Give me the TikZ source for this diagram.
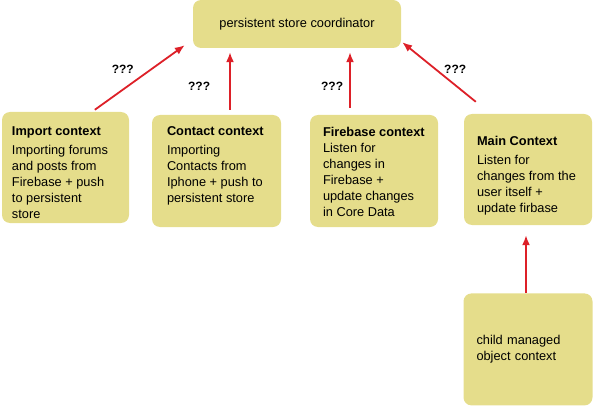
\documentclass[tikz,border=0pt]{standalone}
\usepackage{fontspec}
\setmainfont{Liberation Sans}
\usetikzlibrary{arrows.meta, positioning}
\definecolor{boxyellow}{RGB}{229,221,139}
\definecolor{arrowred}{RGB}{221,32,40}

\begin{document}
\begin{tikzpicture}[
    x=1pt, y=-1pt,
    node distance=1.2cm,
    ctxbox/.style={rectangle, fill=boxyellow, rounded corners=8pt, minimum width=128pt, minimum height=111pt, inner sep=0pt},
    ctxtext/.style={inner sep=0pt, align=left, font=\fontsize{12.8}{16}\selectfont},
    qmark/.style={inner sep=0pt, font=\bfseries\fontsize{12}{14}\selectfont},
    arrow/.style={-{Latex[width=8pt,length=10pt]}, line width=1.8pt, draw=arrowred}
]
    \useasboundingbox (0,0) rectangle (593,406);

    \node[ctxbox, minimum width=208pt, minimum height=48pt, font=\fontsize{12.8}{16}\selectfont] (psc) at (297,24) {persistent store coordinator};

    \node[ctxbox, minimum width=127pt] (import) at (65.5,167.5) {};
    \node[ctxbox, minimum width=129pt, minimum height=112pt] (contact) at (216.5,171) {};
    \node[ctxbox, minimum height=112pt] (firebase) at (374,171) {};
    \node[ctxbox] (main) at (528,169.5) {};
    \node[ctxbox, minimum width=129pt, minimum height=112pt, below=68pt of main, ctxtext, text width=103pt] (child) {child managed\\ object context};

    \node[ctxtext, below right=15pt and 10pt of import.north west] (import-txt) {\textbf{Import context}\\[3pt] Importing forums\\ and posts from\\ Firebase + push\\ to persistent\\ store};
    \node[ctxtext, below right=12pt and 15pt of contact.north west] (contact-txt) {\textbf{Contact context}\\[3pt] Importing\\ Contacts from\\ Iphone + push to\\ persistent store};
    \node[ctxtext, below right=12pt and 13pt of firebase.north west] (firebase-txt) {\textbf{Firebase context}\\ Listen for\\ changes in\\ Firebase +\\ update changes\\ in Core Data};
    \node[ctxtext, below right=22pt and 13pt of main.north west] (main-txt) {\textbf{Main Context}\\[3pt] Listen for\\ changes from the\\ user itself +\\ update firbase};

    \draw[arrow] ([xshift=93pt,yshift=2pt]import.north west) -- ([xshift=-8pt,yshift=3pt]psc.south west) node[qmark, pos=0.35, above=13pt, xshift=-3.5pt] (q-import) {???};
    \draw[arrow] ([xshift=13.5pt,yshift=5pt]contact.north) -- ([xshift=-67pt,yshift=-4pt]psc.south) node[qmark, pos=0.4, left=19pt] (q-contact) {???};
    \draw[arrow] ([xshift=-24pt,yshift=7pt]firebase.north) -- ([xshift=53pt,yshift=-4pt]psc.south) node[qmark, pos=0.39, left=6pt] (q-firebase) {???};
    \draw[arrow] ([xshift=12pt,yshift=12pt]main.north west) -- ([xshift=1pt,yshift=6pt]psc.south east) node[qmark, pos=0.55, right=8pt] (q-main) {???};
    \draw[arrow] ([xshift=-2pt]child.north) -- ([xshift=-2pt,yshift=-10pt]main.south);
\end{tikzpicture}
\end{document}
